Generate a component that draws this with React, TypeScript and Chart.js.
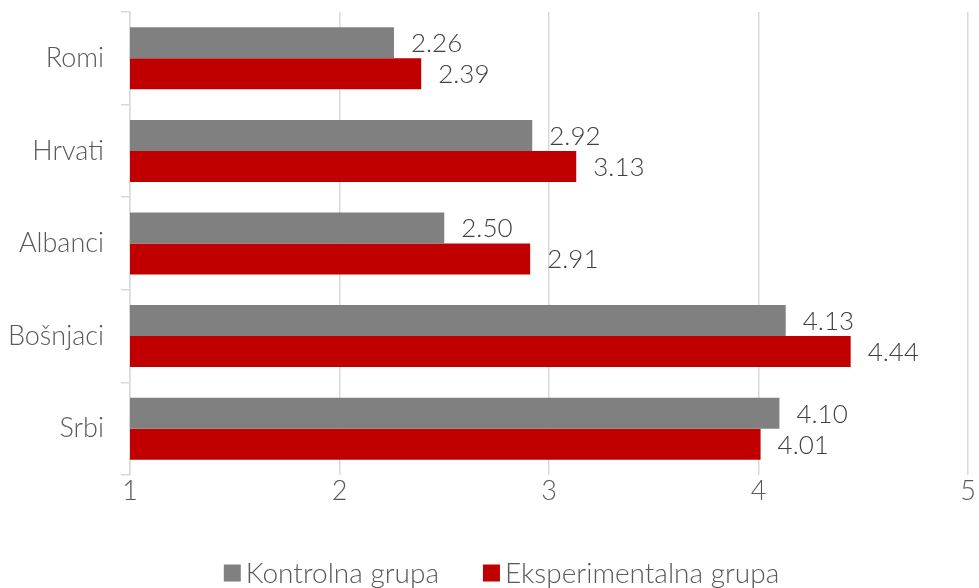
import React, { useEffect, useRef } from "react";
import { Chart, registerables } from "chart.js";

Chart.register(...registerables);

const categories = ["Romi", "Hrvati", "Albanci", "Bošnjaci", "Srbi"];
const kontrolna = [2.26, 2.92, 2.5, 4.13, 4.1];
const eksperimentalna = [2.39, 3.13, 2.91, 4.44, 4.01];
const seriesNames = ["Kontrolna grupa", "Eksperimentalna grupa"];
const xTicks = [1, 2, 3, 4, 5];

const FONT = "Lato, 'Open Sans', sans-serif";
const FSIZE = 26;
const AXIS_FSIZE = 27;
const LEGEND_FSIZE = 28;

const barLabels = {
  id: "barLabels",
  afterDatasetsDraw(chart: any) {
    const ctx = chart.ctx;
    ctx.save();
    ctx.font = `300 ${FSIZE}px ${FONT}`;
    ctx.fillStyle = "#404040";
    ctx.textAlign = "left";
    ctx.textBaseline = "middle";
    chart.data.datasets.forEach((ds: any, di: number) => {
      const meta = chart.getDatasetMeta(di);
      meta.data.forEach((bar: any, i: number) => {
        const v = ds.data[i] as number;
        ctx.fillText(v.toFixed(2), bar.x + 17, bar.y + 1);
      });
    });
    ctx.restore();
  },
};

const customLegend = {
  id: "customLegend",
  afterDraw(chart: any) {
    const ctx = chart.ctx;
    ctx.save();
    ctx.font = `300 ${LEGEND_FSIZE}px ${FONT}`;
    ctx.textBaseline = "middle";
    ctx.textAlign = "left";
    const box = 17;
    const gapBoxText = 5;
    const gapItems = 44;
    const items = chart.data.datasets.map((ds: any) => ({
      label: ds.label as string,
      color: ds.backgroundColor as string,
      w: box + gapBoxText + ctx.measureText(ds.label).width,
    }));
    const total = items.reduce((a: number, it: any) => a + it.w, 0) + gapItems * (items.length - 1);
    let x = chart.width / 2 + 12 - total / 2;
    const y = chart.height - 15;
    items.forEach((it: any) => {
      ctx.fillStyle = it.color;
      ctx.fillRect(x, y - box / 2, box, box);
      ctx.fillStyle = "#595959";
      ctx.fillText(it.label, x + box + gapBoxText, y + 1);
      x += it.w + gapItems;
    });
    ctx.restore();
  },
};

export default function App() {
  const ref = useRef<HTMLCanvasElement>(null);
  useEffect(() => {
    document.body.style.margin = "0";
    const chart = new Chart(ref.current!, {
      type: "bar",
      data: {
        labels: categories,
        datasets: [
          { label: seriesNames[0], data: kontrolna, backgroundColor: "#808080", categoryPercentage: 0.67, barPercentage: 1 },
          { label: seriesNames[1], data: eksperimentalna, backgroundColor: "#C00000", categoryPercentage: 0.67, barPercentage: 1 },
        ],
      },
      options: {
        indexAxis: "y",
        animation: false,
        responsive: false,
        maintainAspectRatio: false,
        layout: { padding: { top: 12, right: 11, left: 0, bottom: 50 } },
        scales: {
          x: {
            min: 1,
            max: 5,
            afterBuildTicks: (s: any) => {
              s.ticks = xTicks.map((v) => ({ value: v }));
            },
            grid: { color: "#d9d9d9", drawTicks: false, lineWidth: 1.5 },
            border: { display: false },
            ticks: { color: "#595959", font: { family: FONT, size: AXIS_FSIZE, weight: "300" }, padding: 0 },
            afterFit: (s: any) => {
              s.height = 63;
              s.paddingLeft = 0;
              s.paddingRight = 0;
            },
          },
          y: {
            grid: { color: "#d9d9d9", drawOnChartArea: false, tickLength: 9, lineWidth: 1.5, offset: true },
            border: { display: true, color: "#d9d9d9", width: 1.5 },
            ticks: { color: "#595959", font: { family: FONT, size: AXIS_FSIZE, weight: "300" }, padding: 17 },
            afterFit: (s: any) => {
              s.width = 130;
              s.paddingTop = 0;
              s.paddingBottom = 0;
            },
          },
        },
        plugins: {
          legend: { display: false },
          tooltip: { enabled: false },
        },
      },
      plugins: [barLabels, customLegend],
    } as any);
    return () => chart.destroy();
  }, []);
  return (
    <div style={{ position: "absolute", left: 0, top: 0, width: 979, height: 588 }}>
      <canvas ref={ref} width={979} height={588} style={{ width: 979, height: 588 }} />
    </div>
  );
}
